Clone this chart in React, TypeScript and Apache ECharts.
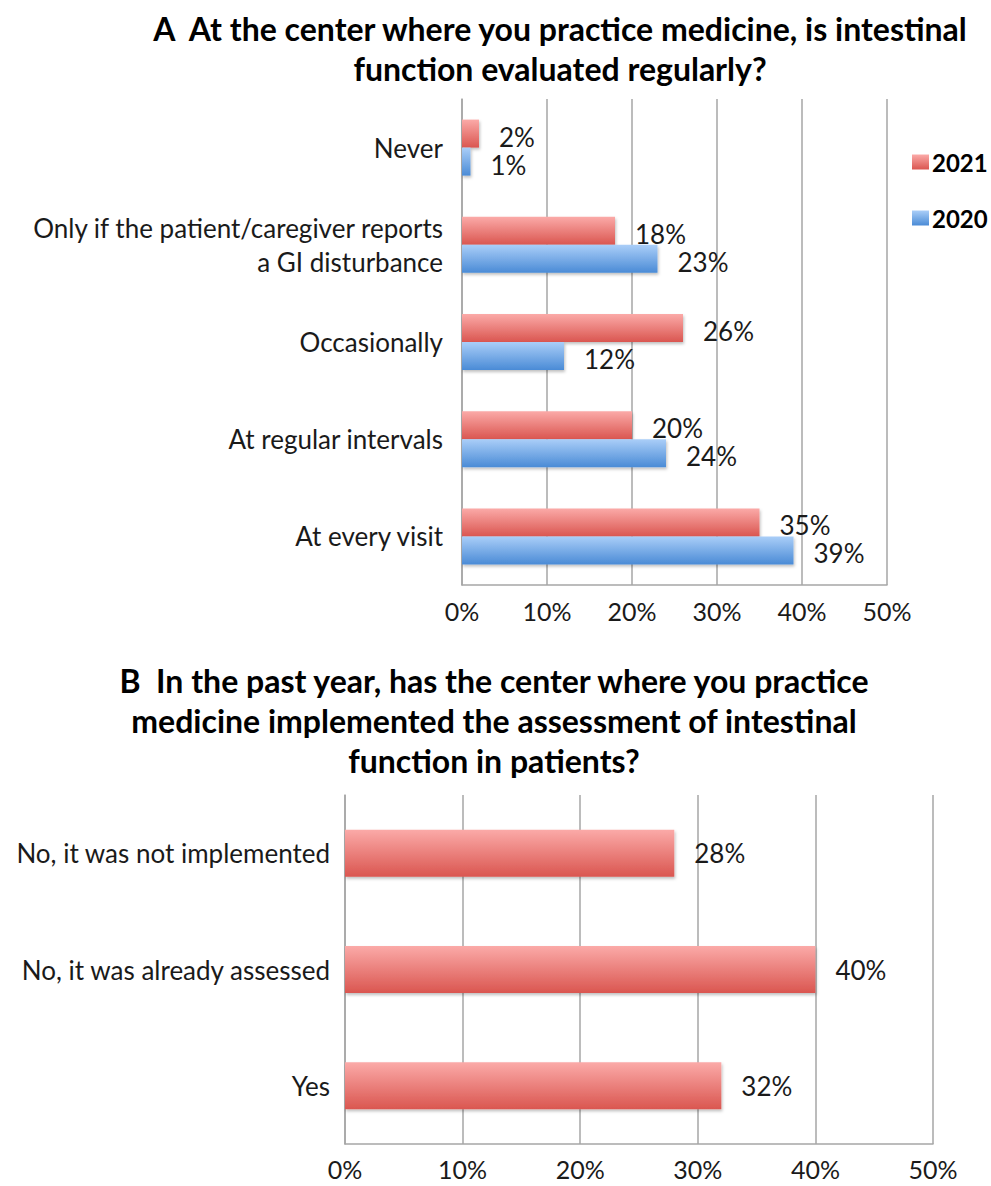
import React, { useEffect, useRef } from "react";
import * as echarts from "echarts";

const categoriesA = [
  "Never",
  "Only if the patient/caregiver reports\na GI disturbance",
  "Occasionally",
  "At regular intervals",
  "At every visit",
];
const values2021 = [2, 18, 26, 20, 35];
const values2020 = [1, 23, 12, 24, 39];
const seriesNames = ["2021", "2020"];

const categoriesB = [
  "No, it was not implemented",
  "No, it was already assessed",
  "Yes",
];
const valuesB = [28, 40, 32];

const xTicks = [0, 10, 20, 30, 40, 50];

const titleA = [
  "A  At the center where you practice medicine, is intestinal",
  "function evaluated regularly?",
];
const titleB = [
  "B  In the past year, has the center where you practice",
  "medicine implemented the assessment of intestinal",
  "function in patients?",
];

const FONT = "Lato, 'Open Sans', sans-serif";

export default function App() {
  const ref = useRef<HTMLDivElement>(null);

  useEffect(() => {
    if (!ref.current) return;
    const chart = echarts.init(ref.current, undefined, { renderer: "svg" });

    const red = new echarts.graphic.LinearGradient(0, 0, 0, 1, [
      { offset: 0, color: "#FBAAA8" },
      { offset: 1, color: "#DA5650" },
    ]);
    const blue = new echarts.graphic.LinearGradient(0, 0, 0, 1, [
      { offset: 0, color: "#AACEF8" },
      { offset: 1, color: "#4A8BD6" },
    ]);
    const shadow = {
      shadowColor: "rgba(0,0,0,0.25)",
      shadowBlur: 3,
      shadowOffsetX: 1,
      shadowOffsetY: 2,
    };

    const gridLine = { show: true, lineStyle: { color: "#A6A6A6", width: 1.5 } };
    const xAxisCommon = {
      type: "value" as const,
      min: 0,
      max: 50,
      interval: 10,
      axisLine: { show: true, lineStyle: { color: "#A6A6A6", width: 1.5 } },
      axisTick: { show: false },
      splitLine: gridLine,
      axisLabel: {
        formatter: (v: number) => (xTicks.includes(v) ? v + "%" : ""),
        fontFamily: FONT,
        fontSize: 25,
        color: "#1a1a1a",
      },
    };
    const yAxisCommon = {
      type: "category" as const,
      inverse: true,
      axisLine: { show: true, lineStyle: { color: "#A6A6A6", width: 1.5 } },
      axisTick: { show: false },
      splitLine: { show: false },
    };
    const labelCommon = {
      show: true,
      position: "right" as const,
      distance: 20,
      formatter: "{c}%",
      fontFamily: FONT,
      fontSize: 26,
      color: "#1a1a1a",
    };

    const titleFont = (t: string, x: number, y: number) => ({
      type: "text",
      x,
      y,
      style: {
        text: t,
        textAlign: "center",
        textVerticalAlign: "middle",
        fontFamily: FONT,
        fontWeight: "bold",
        fontSize: 32,
        fill: "#000",
      },
    });

    chart.setOption({
      animation: false,
      backgroundColor: "#fff",
      graphic: [
        ...titleA.map((t, i) => titleFont(t, 560, 28 + i * 40)),
        ...titleB.map((t, i) => titleFont(t, 494, 680 + i * 40)),
      ],
      legend: {
        data: seriesNames,
        orient: "vertical",
        left: 907,
        top: 145,
        itemWidth: 17,
        itemHeight: 15,
        itemGap: 32,
        icon: "rect",
        textStyle: {
          fontFamily: FONT,
          fontWeight: "bold",
          fontSize: 24,
          color: "#000",
          padding: [0, 0, 0, -2],
        },
      },
      grid: [
        { left: 462, top: 99, width: 425, height: 486 },
        { left: 345, top: 795, width: 588, height: 349 },
      ],
      xAxis: [
        { ...xAxisCommon, gridIndex: 0, axisLabel: { ...xAxisCommon.axisLabel, margin: 13 } },
        { ...xAxisCommon, gridIndex: 1, axisLabel: { ...xAxisCommon.axisLabel, margin: 12 } },
      ],
      yAxis: [
        {
          ...yAxisCommon,
          gridIndex: 0,
          data: categoriesA,
          axisLabel: {
            fontFamily: FONT,
            fontSize: 26,
            color: "#1a1a1a",
            margin: 19,
            lineHeight: 34,
            align: "right",
          },
        },
        {
          ...yAxisCommon,
          gridIndex: 1,
          data: categoriesB,
          axisLabel: {
            fontFamily: FONT,
            fontSize: 26,
            color: "#1a1a1a",
            margin: 15,
          },
        },
      ],
      series: [
        {
          name: seriesNames[0],
          type: "bar",
          xAxisIndex: 0,
          yAxisIndex: 0,
          data: values2021,
          barWidth: 28,
          barGap: "0%",
          itemStyle: { color: red, ...shadow },
          label: { ...labelCommon, offset: [0, 3] },
        },
        {
          name: seriesNames[1],
          type: "bar",
          xAxisIndex: 0,
          yAxisIndex: 0,
          data: values2020,
          barWidth: 28,
          barGap: "0%",
          itemStyle: { color: blue, ...shadow },
          label: { ...labelCommon, offset: [0, 3] },
        },
        {
          name: "B",
          type: "bar",
          xAxisIndex: 1,
          yAxisIndex: 1,
          data: valuesB,
          barWidth: 47,
          itemStyle: { color: red, ...shadow },
          label: { ...labelCommon },
        },
      ],
    });

    return () => chart.dispose();
  }, []);

  return (
    <div
      ref={ref}
      style={{ position: "absolute", left: 0, top: 0, width: 991, height: 1186 }}
    />
  );
}
